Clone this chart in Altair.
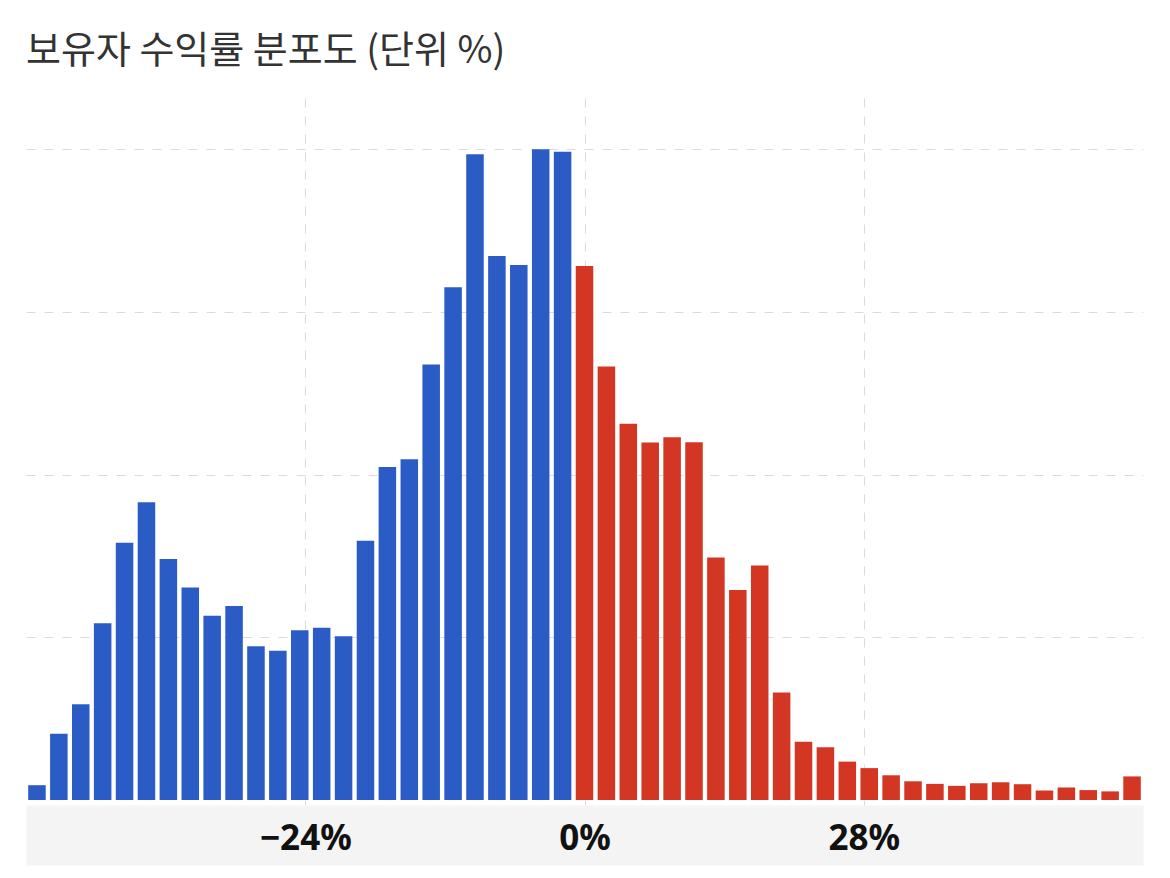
import altair as alt
import pandas as pd

# Holder return distribution (share of holders per return bin, grid step = 1 unit)
bin_index = list(range(51))
shares = [
    0.091, 0.408, 0.588, 1.087, 1.582, 1.830, 1.481, 1.307, 1.133, 1.192,
    0.945, 0.917, 1.044, 1.059, 1.006, 1.594, 2.047, 2.095, 2.677, 3.152,
    3.970, 3.344, 3.289, 4.000, 3.986, 3.283, 2.665, 2.313, 2.198, 2.230,
    2.200, 1.491, 1.291, 1.441, 0.661, 0.358, 0.325, 0.236, 0.196, 0.152,
    0.115, 0.099, 0.087, 0.103, 0.109, 0.097, 0.059, 0.077, 0.061, 0.053,
    0.145,
]
first_gain_bin = 25
tick_positions = [12.75, 25.5, 38.25]
tick_labels = ["\u221224%", "0%", "28%"]
y_grid_values = [1, 2, 3, 4]

df = pd.DataFrame({"bin": bin_index, "share": shares})

label_expr = "''"
for pos, lab in reversed(list(zip(tick_positions, tick_labels))):
    label_expr = f"abs(datum.value - {pos}) < 0.01 ? '{lab}' : ({label_expr})"

x_scale = alt.Scale(domain=[0, len(bin_index)], nice=False, zero=False)
y_scale = alt.Scale(domain=[0, 4.285], nice=False)
y_axis = alt.Axis(
    values=y_grid_values,
    labels=False,
    ticks=False,
    domain=False,
    title=None,
    grid=True,
    gridColor="#dadada",
    gridDash=[9, 9],
    gridWidth=1,
)

base = alt.Chart(df).transform_calculate(x0="datum.bin + 0.1", x1="datum.bin + 0.9")

bars = base.mark_bar().encode(
    x=alt.X(
        "x0:Q",
        scale=x_scale,
        axis=alt.Axis(
            orient="bottom",
            values=tick_positions,
            labels=False,
            title=None,
            ticks=False,
            tickSize=0,
            offset=30,
            domain=True,
            domainColor="#f4f4f4",
            domainWidth=60,
            grid=True,
            gridColor="#dadada",
            gridDash=[9, 9],
            gridWidth=1,
            zindex=0,
        ),
    ),
    x2="x1:Q",
    y=alt.Y("share:Q", scale=y_scale, axis=y_axis),
    y2=alt.datum(0),
    color=alt.condition(
        f"datum.bin < {first_gain_bin}",
        alt.value("#2b5cc5"),
        alt.value("#d43624"),
    ),
)

label_axis_layer = base.transform_filter("false").mark_bar().encode(
    x=alt.X(
        "x0:Q",
        scale=x_scale,
        axis=alt.Axis(
            orient="bottom",
            values=tick_positions,
            labelExpr=label_expr,
            title=None,
            ticks=False,
            tickSize=0,
            domain=False,
            grid=False,
            offset=30,
            labelFont="Noto Sans",
            labelFontSize=35,
            labelFontWeight="bold",
            labelColor="#111111",
            labelBaseline="middle",
            labelPadding=3,
            labelFlush=False,
            labelOverlap=False,
            zindex=2,
        ),
    ),
    x2="x1:Q",
    y=alt.Y("share:Q", scale=y_scale, axis=y_axis),
)

chart = (
    alt.layer(bars, label_axis_layer)
    .resolve_axis(x="independent")
    .properties(
        width=1117,
        height=707,
        padding={"left": 18, "top": 25, "right": 10, "bottom": 10},
        view=alt.ViewBackground(stroke="transparent", strokeWidth=0),
        title=alt.TitleParams(
            text="보유자 수익률 분포도 (단위 %)",
            anchor="start",
            font="Noto Sans CJK KR",
            fontSize=38,
            fontWeight="normal",
            color="#333333",
            offset=27,
        ),
    )
    .configure_view(stroke="transparent", strokeWidth=0)
    .configure(background="white")
)

chart.save("out.html", embed_options={"renderer": "svg", "actions": False})
